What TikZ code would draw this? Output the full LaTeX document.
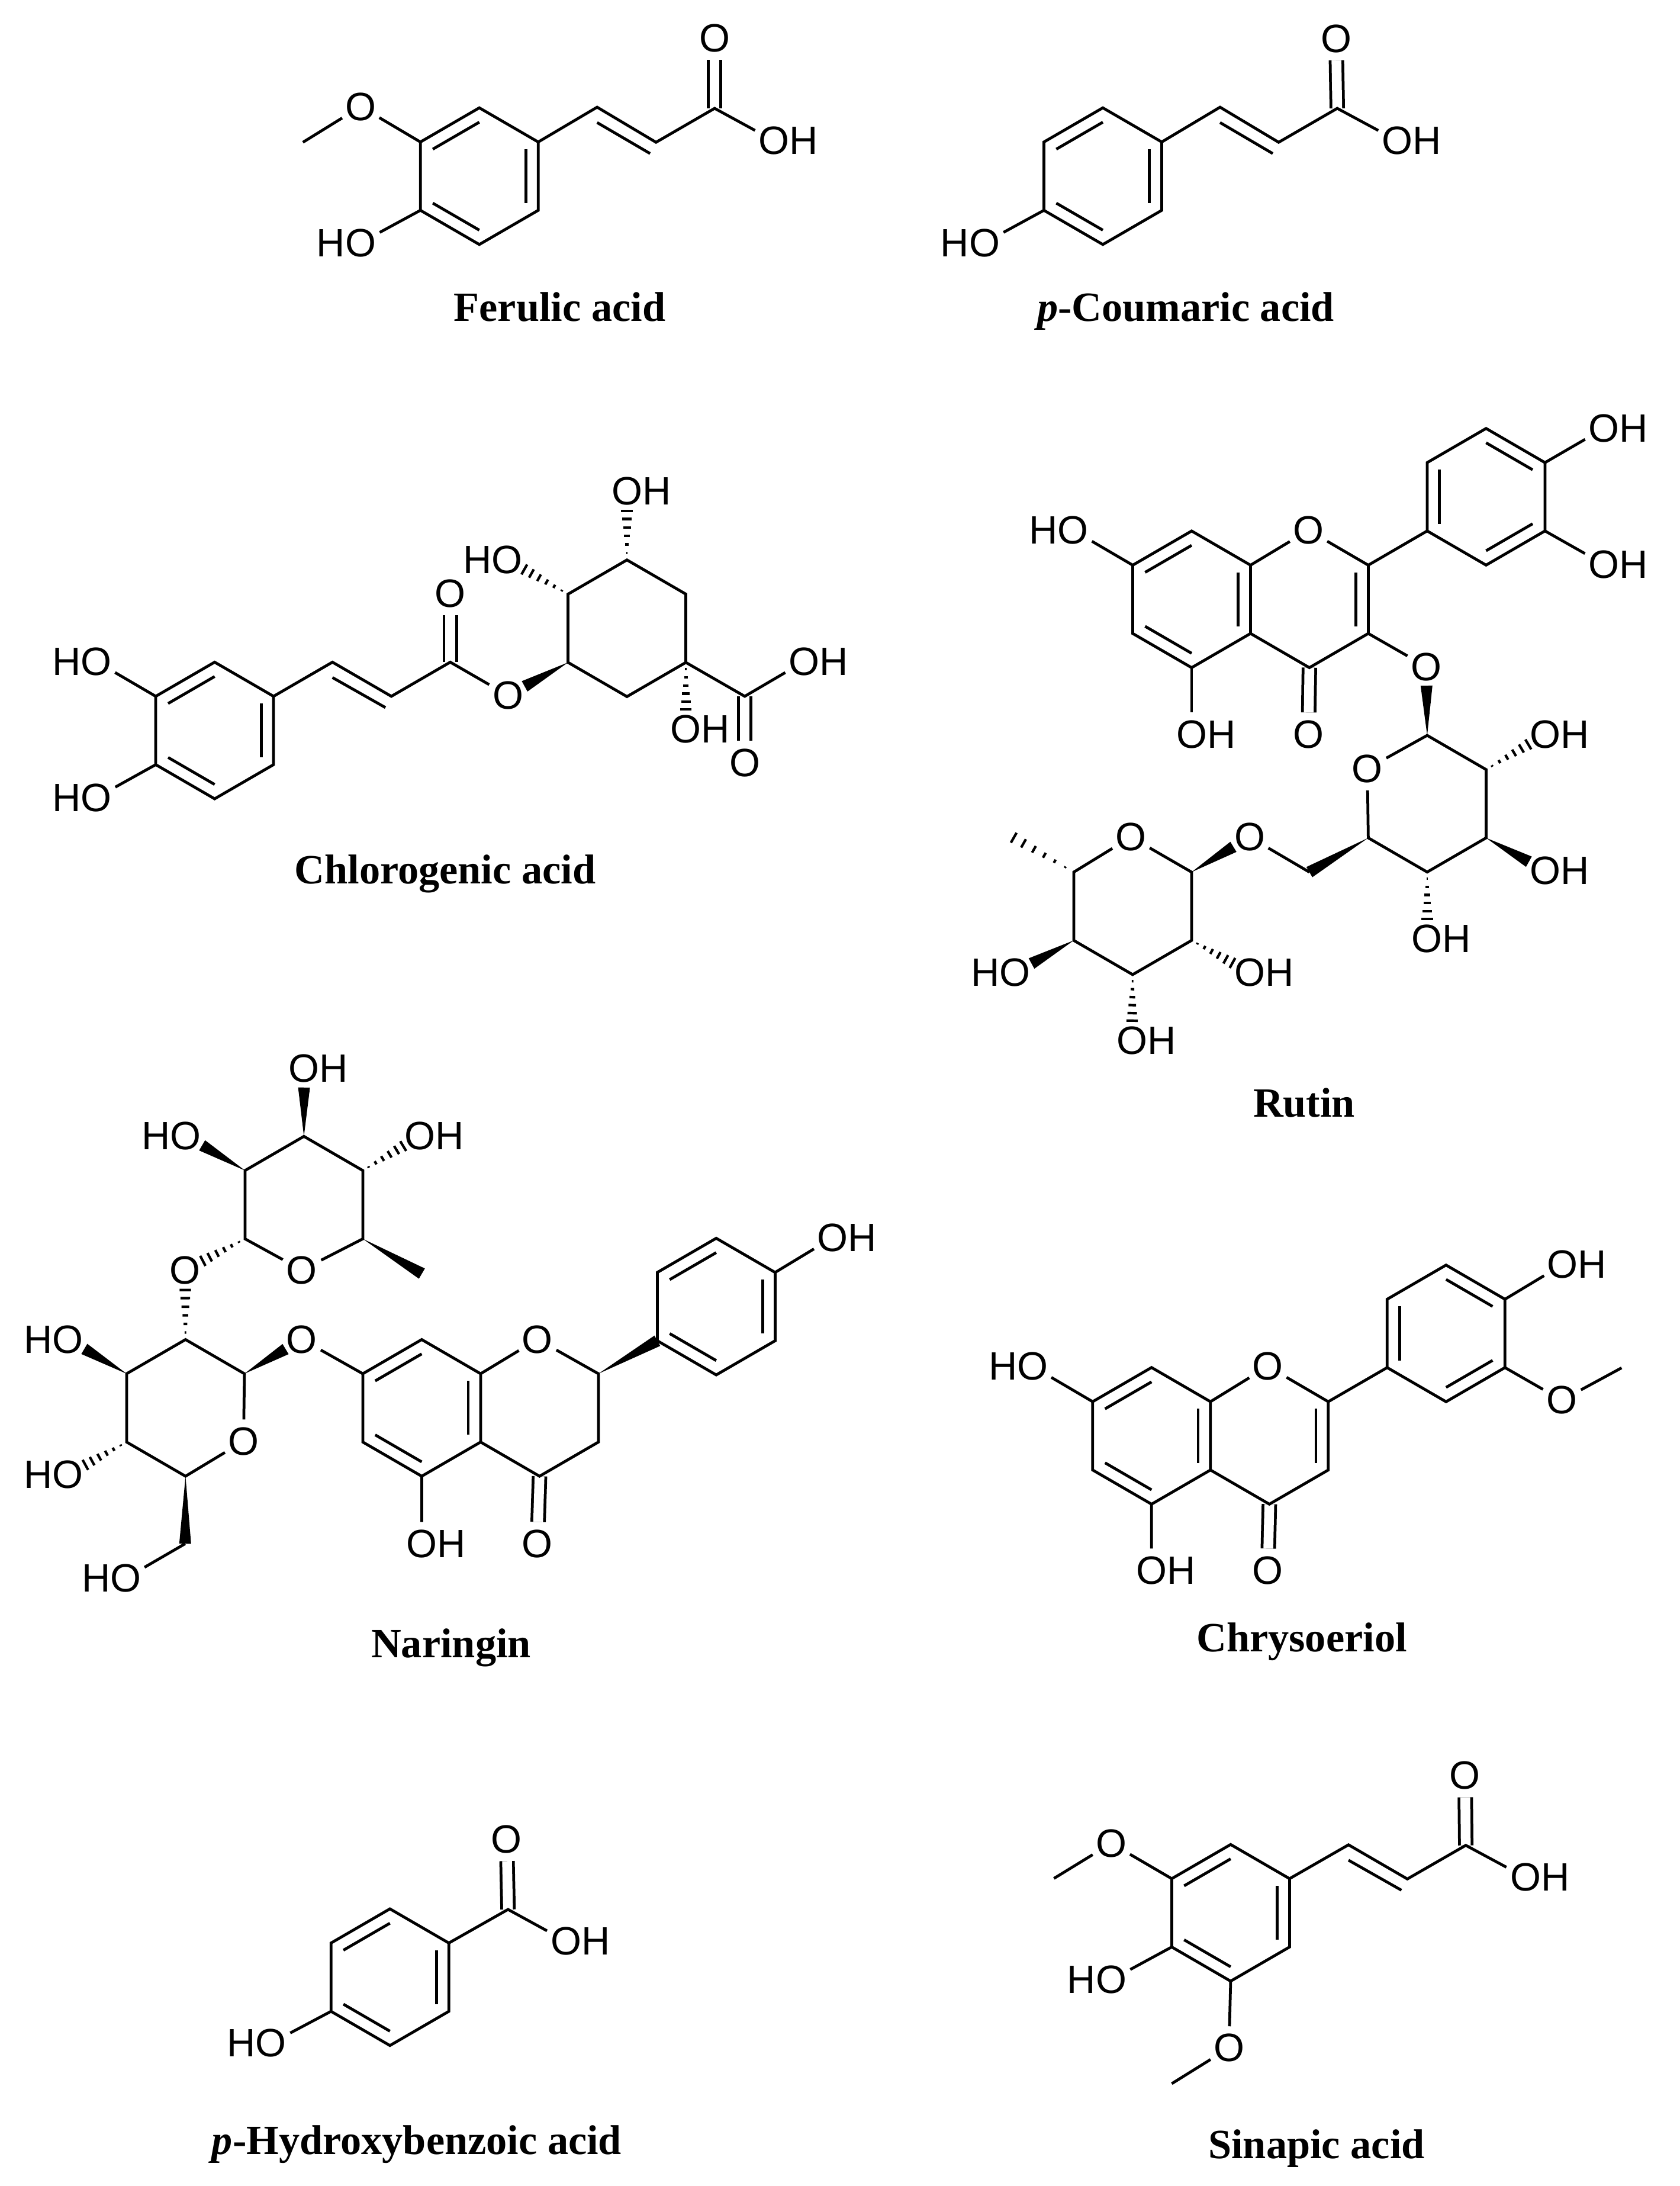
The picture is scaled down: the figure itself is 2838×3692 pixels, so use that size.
\documentclass[tikz,border=0pt]{standalone}
\usepackage{fontspec}
\usetikzlibrary{calc}
\newfontfamily\atomfont{Liberation Sans}
\newfontfamily\namefont{Liberation Serif}
% six ring points and the centre
\newcommand{\hexring}[3]{%
  \coordinate (#10) at (#2,#3);
  \coordinate (#11) at ($(#10)+(-99.5,-57.7)$);
  \coordinate (#12) at ($(#10)+(0,-115.4)$);
  \coordinate (#13) at ($(#10)+(99.5,-57.7)$);
  \coordinate (#14) at ($(#10)+(99.5,57.7)$);
  \coordinate (#15) at ($(#10)+(0,115.4)$);
  \coordinate (#16) at ($(#10)+(-99.5,57.7)$);}
\newcommand{\hexbonds}[1]{\draw[bond] (#11)--(#12)--(#13)--(#14)--(#15)--(#16)--cycle;}
\newcommand{\inbond}[3]{\draw[bond] ($(#1#2)!.21!(#10)$)--($(#1#3)!.21!(#10)$);}
\newcommand{\chainbond}[2]{\draw[bond] ($(#1)+(0,26)$)--($(#2)+(-10,19)$);}
\newcommand{\wedgebond}[3][.32cm]{%
  \coordinate (wtip) at ($(#3)!#1!(#2)$);
  \fill (#2)--($(wtip)!.1cm!90:(#2)$)--($(wtip)!.1cm!-90:(#2)$)--cycle;}
\newcommand{\hashbond}[3][.32cm]{%
  \coordinate (htip) at ($(#3)!#1!(#2)$);
  \foreach \t in {.14,.31,.48,.65,.82,.98}{
    \pgfmathsetmacro{\hw}{\t*2.8}
    \draw[hashline] ($(#2)!\t!(htip)!\hw pt!90:(#2)$)--($(#2)!\t!(htip)!\hw pt!-90:(#2)$);}}
\newcommand{\oh}{O\rlap{H}}
\newcommand{\ho}{\llap{H}O}
\begin{document}
\begin{tikzpicture}[x=.01cm,y=-.01cm,
    bond/.style={line width=1.35pt,line join=miter},
    dbl/.style={bond,double,double distance=.165cm},
    hashline/.style={line width=1.2pt},
    atom/.style={circle,inner sep=0pt,minimum size=.72cm,font={\atomfont\fontsize{19}{20}\selectfont}},
    chemname/.style={anchor=base,inner sep=0pt,font={\namefont\bfseries\fontsize{20}{24}\selectfont}}]
    \useasboundingbox (0,0) rectangle (2838,3692);

    % ferulic acid
    \hexring{fa}{809.7}{297.5}
    \coordinate (f7) at (1008.7,181); \coordinate (f8) at (1108.2,240.3); \coordinate (f9) at (1207.2,183);
    \coordinate (fme) at (511.7,240.3);
    \node[atom] (fome) at (609.2,180) {O};
    \node[atom] (fho) at (609.2,410) {\ho};
    \node[atom] (fco) at (1207.2,64.7) {O};
    \node[atom] (foh) at (1307.7,237.8) {\oh};
    \draw[dbl] (f9)--(fco);
    \hexbonds{fa}
    \inbond{fa}{1}{2} \inbond{fa}{3}{4} \inbond{fa}{5}{6}
    \draw[bond] (fa3)--(f7)--(f8)--(f9)--(foh);
    \chainbond{f7}{f8}
    \draw[bond] (fa1)--(fome)--(fme);
    \draw[bond] (fa6)--(fho);
    \node[chemname] (fname) at (945.5,542) {Ferulic acid};

    % p-coumaric acid
    \hexring{ca}{1863}{297.5}
    \coordinate (c7) at (2061,181); \coordinate (c8) at (2160,240.3); \coordinate (c9) at (2259,183);
    \node[atom] (cho) at (1663,410) {\ho};
    \node[atom] (cco) at (2257,65) {O};
    \node[atom] (coh) at (2360.7,237.8) {\oh};
    \draw[dbl] (c9)--(cco);
    \hexbonds{ca}
    \inbond{ca}{1}{2} \inbond{ca}{3}{4} \inbond{ca}{5}{6}
    \draw[bond] (ca3)--(c7)--(c8)--(c9)--(coh);
    \chainbond{c7}{c8}
    \draw[bond] (ca6)--(cho);
    \node[chemname] (cname) at (2003,542) {{\itshape p}-Coumaric acid};

    % chlorogenic acid
    \hexring{cg}{362.6}{1233.7}
    \hexring{cq}{1059.1}{1061.1}
    \coordinate (g7) at (561.6,1118.3); \coordinate (g8) at (661.1,1176); \coordinate (g9) at (760.6,1118.3);
    \coordinate (g10) at (1258.1,1176);
    \node[atom] (gho1) at (162.7,1117.3) {\ho};
    \node[atom] (gho2) at (162.7,1347.2) {\ho};
    \node[atom] (gco) at (760.6,1002.5) {O};
    \node[atom] (gest) at (858.2,1174.6) {O};
    \node[atom] (gho3) at (856.3,945.2) {\ho};
    \node[atom] (goh1) at (1059.1,829.3) {\oh};
    \node[atom] (goh2) at (1158.6,1231.7) {\oh};
    \node[atom] (goh3) at (1358.2,1117.3) {\oh};
    \node[atom] (gco2) at (1258.1,1288) {O};
    \draw[dbl] (g9)--(gco);
    \draw[dbl] (g10)--(gco2);
    \hexbonds{cg}
    \inbond{cg}{1}{2} \inbond{cg}{3}{4} \inbond{cg}{5}{6}
    \hexbonds{cq}
    \draw[bond] (cg3)--(g7)--(g8)--(g9)--(gest);
    \chainbond{g7}{g8}
    \draw[bond] (cg1)--(gho1);
    \draw[bond] (cg6)--(gho2);
    \draw[bond] (cq4)--(g10)--(goh3);
    \wedgebond{cq6}{gest}
    \hashbond{cq1}{gho3}
    \hashbond{cq2}{goh1}
    \hashbond{cq4}{goh2}
    \node[chemname] (gname) at (752,1492) {Chlorogenic acid};

    % rutin
    \hexring{ra}{2013}{1012.2}
    \hexring{rc}{2211.9}{1012.2}
    \hexring{rb}{2510.4}{839}
    \hexring{rs}{2410.9}{1357.4}
    \hexring{rt}{1913.4}{1530.6}
    \coordinate (r7) at (2211.9,1472.9); \coordinate (r8) at (1710.4,1413.7);
    \node[atom] (rho1) at (1812.9,895.6) {\ho};
    \node[atom] (roh1) at (2013,1240) {\oh};
    \node[atom] (rco) at (2210.3,1240) {O};
    \node[atom] (ro1) at (2210.3,895.6) {O};
    \node[atom] (roh2) at (2709.4,723.6) {\oh};
    \node[atom] (roh3) at (2709.4,953) {\oh};
    \node[atom] (ro3) at (2409.4,1126) {O};
    \node[atom] (rso) at (2309.8,1298.2) {O};
    \node[atom] (roh4) at (2610.7,1240) {\oh};
    \node[atom] (roh5) at (2610.7,1470.9) {\oh};
    \node[atom] (roh6) at (2410.9,1585.3) {\oh};
    \node[atom] (rlink) at (2111,1413.7) {O};
    \node[atom] (rto) at (1910.4,1413.7) {O};
    \node[atom] (rho2) at (1714.4,1642.6) {\ho};
    \node[atom] (roh7) at (2111.4,1642.6) {\oh};
    \node[atom] (roh8) at (1912,1757.4) {\oh};
    \draw[dbl] (rc5)--(rco);
    \hexbonds{ra}
    \inbond{ra}{1}{2} \inbond{ra}{3}{4} \inbond{ra}{5}{6}
    \draw[bond] (ra3)--(ro1)--(rc3)--(rc4)--(rc5)--(ra4);
    \inbond{rc}{3}{4}
    \hexbonds{rb}
    \inbond{rb}{6}{1} \inbond{rb}{2}{3} \inbond{rb}{4}{5}
    \draw[bond] (rc3)--(rb6);
    \draw[bond] (ra1)--(rho1);
    \draw[bond] (ra5)--(roh1);
    \draw[bond] (rb3)--(roh2);
    \draw[bond] (rb4)--(roh3);
    \draw[bond] (rc4)--(ro3);
    \draw[bond] (rso)--(rs2)--(rs3)--(rs4)--(rs5)--(rs6)--(rso);
    \draw[bond] (rto)--(rt3)--(rt4)--(rt5)--(rt6)--(rt1)--(rto);
    \draw[bond] (r7)--(rlink);
    \wedgebond{rs2}{ro3}
    \hashbond{rs3}{roh4}
    \wedgebond{rs4}{roh5}
    \hashbond{rs5}{roh6}
    \wedgebond[0cm]{rs6}{r7}
    \wedgebond{rt3}{rlink}
    \hashbond[0cm]{rt1}{r8}
    \wedgebond{rt6}{rho2}
    \hashbond{rt4}{roh7}
    \hashbond{rt5}{roh8}
    \node[chemname] (rname) at (2203,1886) {Rutin};

    % naringin
    \hexring{nt}{513.4}{2034.6}
    \hexring{nb}{313.4}{2377.8}
    \hexring{na}{712.4}{2377.8}
    \hexring{nc}{911.4}{2377.8}
    \hexring{nr}{1209.9}{2206.7}
    \coordinate (n7) at (712.7,2151); \coordinate (n8) at (312.8,2607.2);
    \node[atom] (noh1) at (513.7,1804.7) {\oh};
    \node[atom] (nho1) at (313.8,1918.2) {\ho};
    \node[atom] (noh2) at (709.9,1918.2) {\oh};
    \node[atom] (nto) at (509.9,2145) {O};
    \node[atom] (nlink) at (312.8,2145) {O};
    \node[atom] (nho2) at (114.8,2262) {\ho};
    \node[atom] (nho3) at (114.8,2490.3) {\ho};
    \node[atom] (nbo) at (411.4,2434.1) {O};
    \node[atom] (nho4) at (212.4,2665.4) {\ho};
    \node[atom] (nglyc) at (509.9,2262) {O};
    \node[atom] (nco1) at (907.9,2262) {O};
    \node[atom] (noh3) at (712.7,2607.2) {\oh};
    \node[atom] (nco2) at (907.9,2607.2) {O};
    \node[atom] (noh4) at (1406.4,2090.3) {\oh};
    \draw[dbl] (nc5)--(nco2);
    \draw[bond] (nto)--(nt4)--(nt3)--(nt2)--(nt1)--(nt6)--(nto);
    \draw[bond] (nbo)--(nb3)--(nb2)--(nb1)--(nb6)--(nb5)--(nbo);
    \hexbonds{na}
    \inbond{na}{1}{2} \inbond{na}{3}{4} \inbond{na}{5}{6}
    \draw[bond] (na3)--(nco1)--(nc3)--(nc4)--(nc5)--(na4);
    \hexbonds{nr}
    \inbond{nr}{1}{2} \inbond{nr}{3}{4} \inbond{nr}{5}{6}
    \draw[bond] (nr3)--(noh4);
    \draw[bond] (na5)--(noh3);
    \draw[bond] (na1)--(nglyc);
    \draw[bond] (n8)--(nho4);
    \wedgebond{nt2}{noh1}
    \wedgebond{nt1}{nho1}
    \hashbond{nt3}{noh2}
    \wedgebond[0cm]{nt4}{n7}
    \hashbond{nt6}{nlink}
    \hashbond{nb2}{nlink}
    \wedgebond{nb1}{nho2}
    \hashbond{nb6}{nho3}
    \wedgebond[0cm]{nb5}{n8}
    \wedgebond{nb3}{nglyc}
    \wedgebond[0cm]{nc3}{nr6}
    \node[chemname] (nname) at (762,2799) {Naringin};

    % chrysoeriol
    \hexring{ya}{1945.3}{2425}
    \hexring{yc}{2144.3}{2425}
    \hexring{yb}{2442.8}{2252}
    \coordinate (y7) at (2739.3,2310.2);
    \node[atom] (yho) at (1744.3,2307.7) {\ho};
    \node[atom] (yo1) at (2141.7,2307.7) {O};
    \node[atom] (yoh1) at (1945.1,2652) {\oh};
    \node[atom] (yco) at (2141.7,2652) {O};
    \node[atom] (yoh2) at (2639.8,2135.6) {\oh};
    \node[atom] (yome) at (2638.4,2364.8) {O};
    \draw[dbl] (yc5)--(yco);
    \hexbonds{ya}
    \inbond{ya}{1}{2} \inbond{ya}{3}{4} \inbond{ya}{5}{6}
    \draw[bond] (ya3)--(yo1)--(yc3)--(yc4)--(yc5)--(ya4);
    \inbond{yc}{3}{4}
    \hexbonds{yb}
    \inbond{yb}{6}{1} \inbond{yb}{2}{3} \inbond{yb}{4}{5}
    \draw[bond] (yc3)--(yb6);
    \draw[bond] (ya1)--(yho);
    \draw[bond] (ya5)--(yoh1);
    \draw[bond] (yb3)--(yoh2);
    \draw[bond] (yb4)--(yome)--(y7);
    \node[chemname] (yname) at (2199,2789) {Chrysoeriol};

    % p-hydroxybenzoic acid
    \hexring{ha}{658.7}{3339.3}
    \coordinate (h7) at (858.2,3224.9);
    \node[atom] (hco) at (855.8,3106.5) {O};
    \node[atom] (hoh) at (956.3,3278.6) {\oh};
    \node[atom] (hho) at (457.9,3450.7) {\ho};
    \draw[dbl] (h7)--(hco);
    \hexbonds{ha}
    \inbond{ha}{1}{2} \inbond{ha}{3}{4} \inbond{ha}{5}{6}
    \draw[bond] (ha3)--(h7)--(hoh);
    \draw[bond] (ha6)--(hho);
    \node[chemname] (hname) at (704,3638) {{\itshape p}-Hydroxybenzoic acid};

    % sinapic acid
    \hexring{sa}{2078.9}{3230.6}
    \coordinate (s7) at (2278,3115.7); \coordinate (s8) at (2377.4,3173.4); \coordinate (s9) at (2476.1,3116.6);
    \coordinate (sme1) at (1780.4,3172.5); \coordinate (sme2) at (1979.4,3519.1);
    \node[atom] (sco) at (2474.9,2998.8) {O};
    \node[atom] (soh) at (2577,3170.9) {\oh};
    \node[atom] (some1) at (1877.1,3113.2) {O};
    \node[atom] (sho) at (1877.1,3343.8) {\ho};
    \node[atom] (some2) at (2076.1,3458.9) {O};
    \draw[dbl] (s9)--(sco);
    \hexbonds{sa}
    \inbond{sa}{1}{2} \inbond{sa}{3}{4} \inbond{sa}{5}{6}
    \draw[bond] (sa3)--(s7)--(s8)--(s9)--(soh);
    \chainbond{s7}{s8}
    \draw[bond] (sa1)--(some1)--(sme1);
    \draw[bond] (sa6)--(sho);
    \draw[bond] (sa5)--(some2)--(sme2);
    \node[chemname] (sname) at (2224,3645) {Sinapic acid};
\end{tikzpicture}
\end{document}
